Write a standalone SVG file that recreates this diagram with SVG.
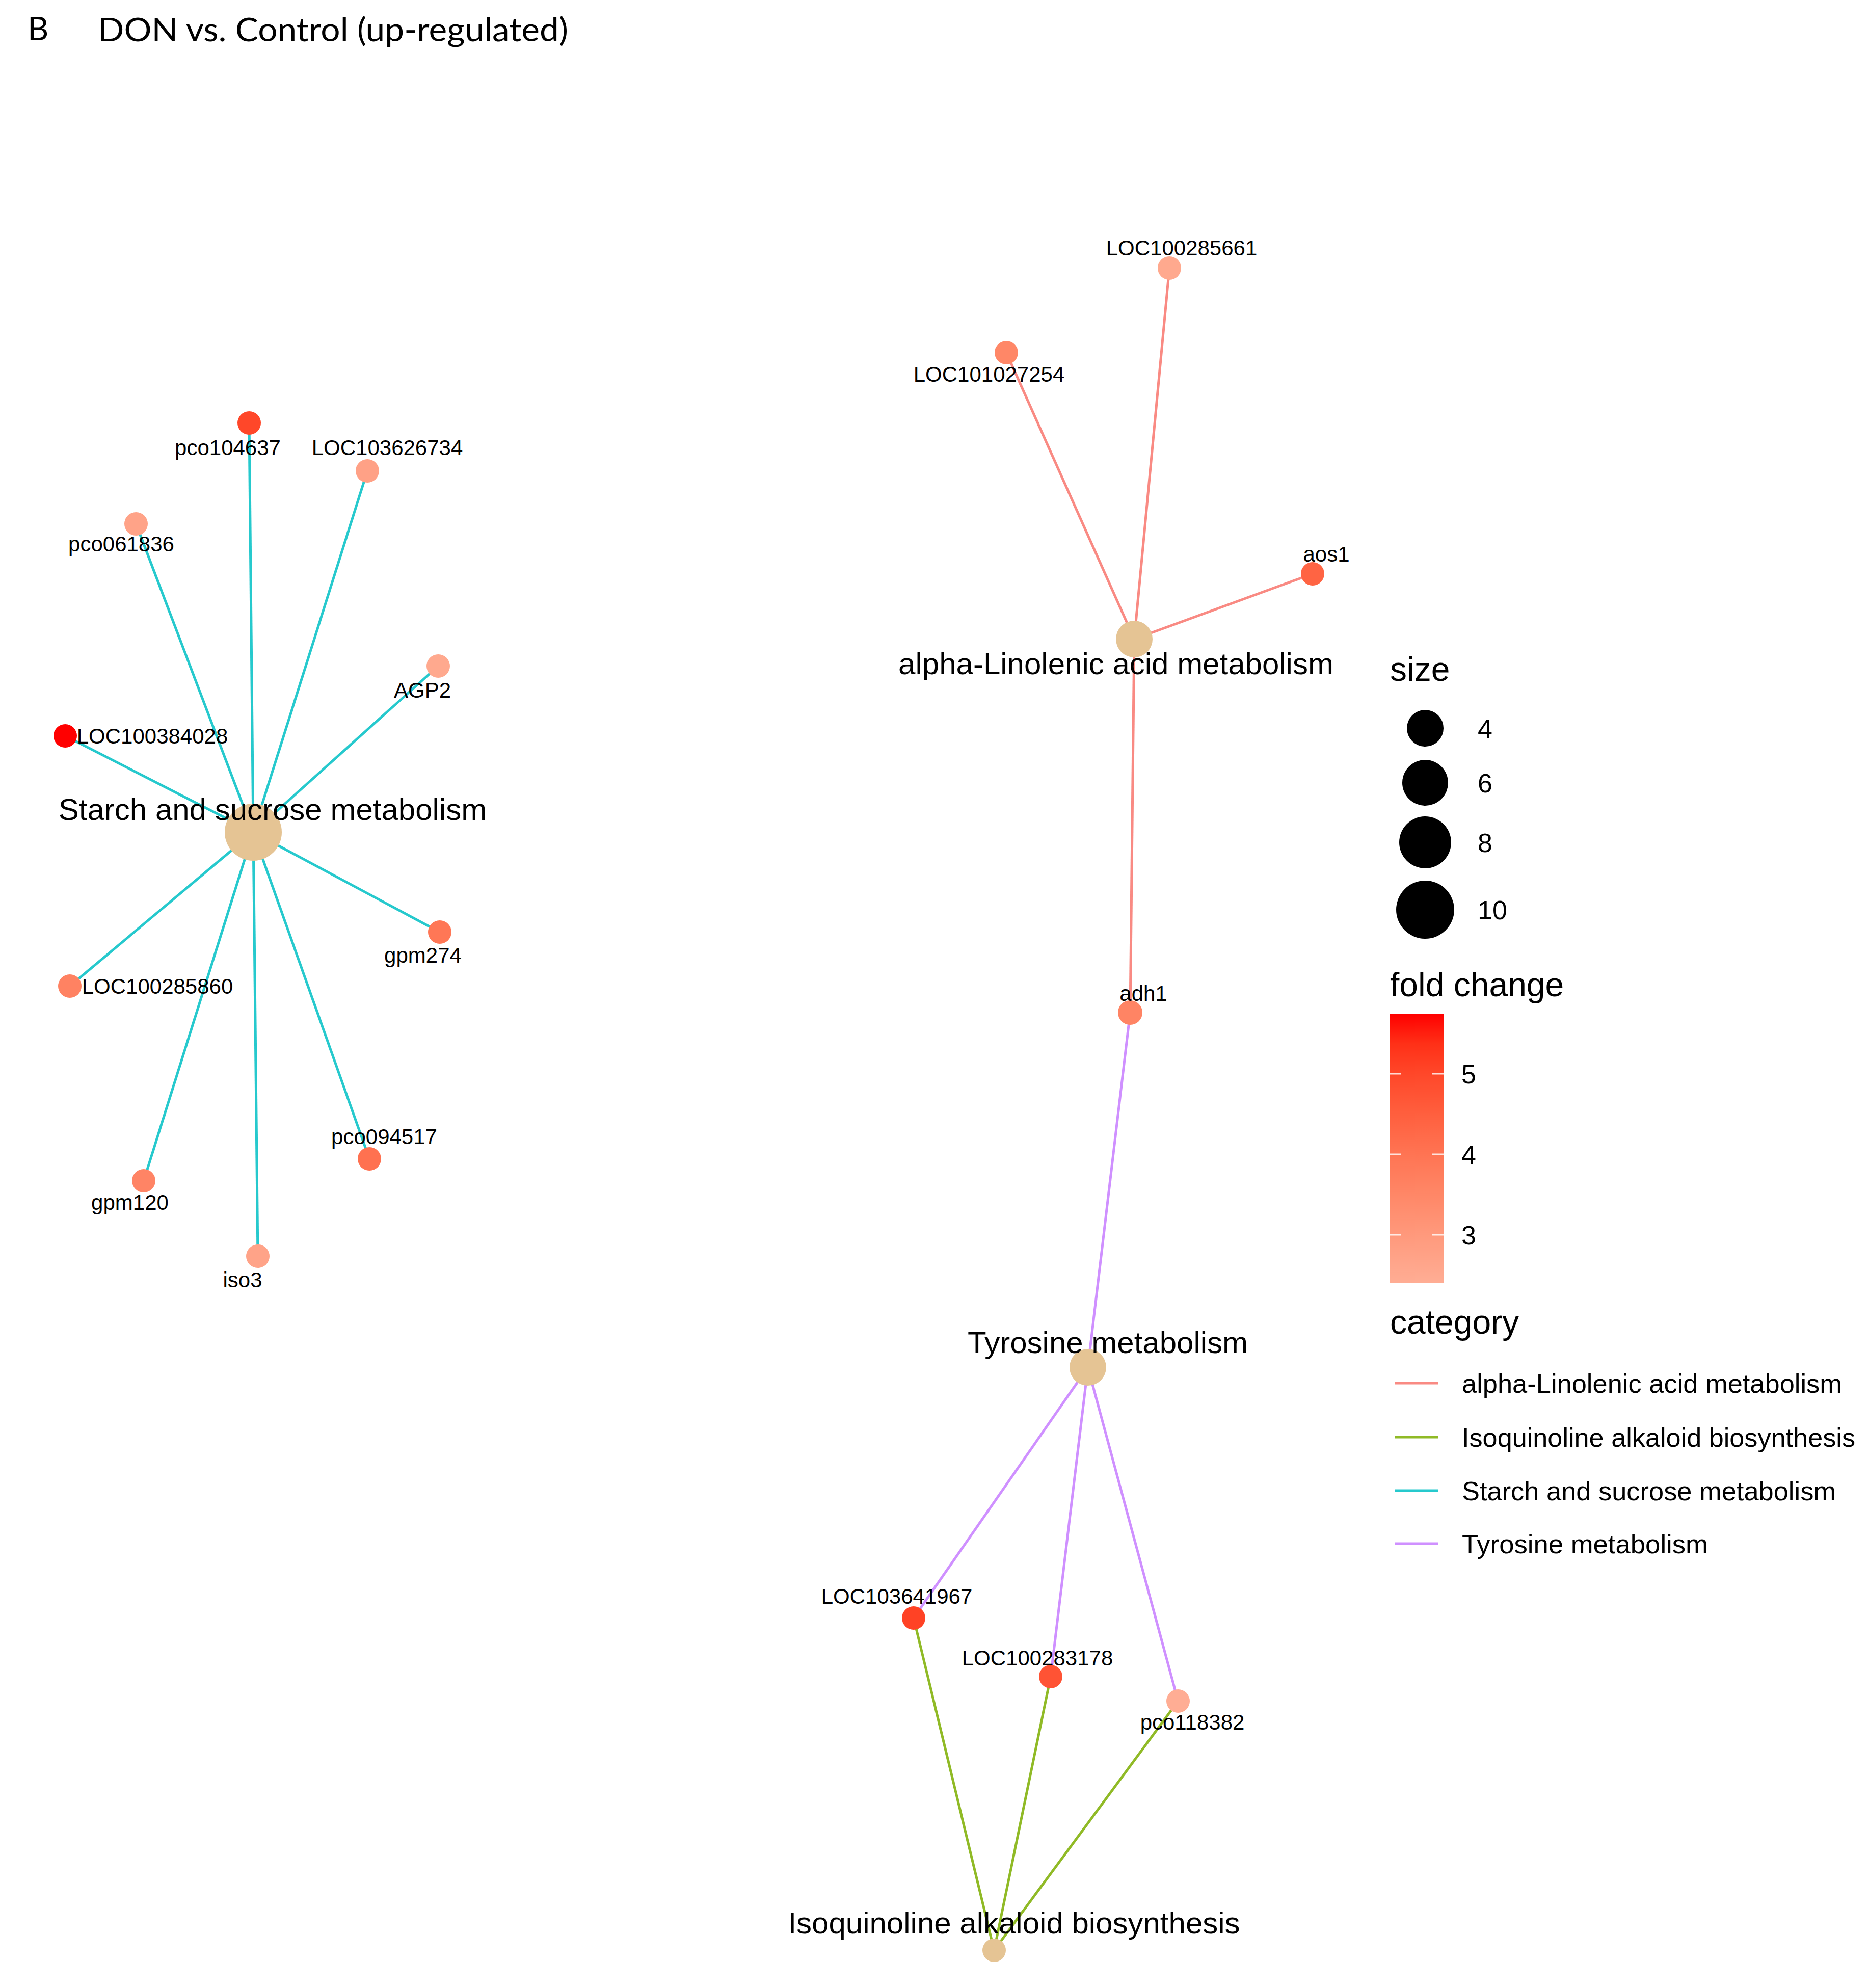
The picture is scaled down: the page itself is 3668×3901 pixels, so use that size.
<svg xmlns="http://www.w3.org/2000/svg" width="3668" height="3901" viewBox="0 0 3668 3901">
<style>
.title{font-family:Lato,"Open Sans","Liberation Sans",sans-serif;fill:#000}
.gl{font-family:"Liberation Sans",Arial,sans-serif;font-size:42px;fill:#000;text-anchor:middle}
.cl{font-family:"Liberation Sans",Arial,sans-serif;font-size:60px;fill:#000;text-anchor:middle}
.lt{font-family:"Liberation Sans",Arial,sans-serif;font-size:66px;fill:#000}
.lx{font-family:"Liberation Sans",Arial,sans-serif;font-size:52px;fill:#000}
.e{stroke-width:5;stroke-opacity:0.85;fill:none}
.ea{stroke:#F8766D}.ei{stroke:#7CAE00}.es{stroke:#00BFC4}.et{stroke:#C77CFF}
.cat{fill:#E5C494}
.tick{stroke:#ffffff;stroke-width:3;stroke-opacity:0.8}
</style>
<defs>
<linearGradient id="fc" x1="0" y1="0" x2="0" y2="1">
<stop offset="0" stop-color="#FF0000"/>
<stop offset="0.11" stop-color="#FF3017"/>
<stop offset="0.222" stop-color="#FF4729"/>
<stop offset="0.372" stop-color="#FF5F3E"/>
<stop offset="0.522" stop-color="#FF7453"/>
<stop offset="0.672" stop-color="#FF8767"/>
<stop offset="0.822" stop-color="#FF997C"/>
<stop offset="0.91" stop-color="#FFA388"/>
<stop offset="1" stop-color="#FFAD94"/>
</linearGradient>
</defs>
<rect width="3668" height="3901" fill="#ffffff"/>
<g id="title">
<text class="title" x="54" y="79" font-size="64">B</text>
<text class="title" x="192" y="81" font-size="64" textLength="923" lengthAdjust="spacingAndGlyphs">DON vs. Control (up-regulated)</text>
</g>
<g id="connectors">
<line class="e es" x1="497" y1="1633" x2="489" y2="830"/>
<line class="e es" x1="497" y1="1633" x2="721" y2="924"/>
<line class="e es" x1="497" y1="1633" x2="267" y2="1028"/>
<line class="e es" x1="497" y1="1633" x2="860" y2="1307"/>
<line class="e es" x1="497" y1="1633" x2="128" y2="1444"/>
<line class="e es" x1="497" y1="1633" x2="863" y2="1829"/>
<line class="e es" x1="497" y1="1633" x2="137" y2="1935"/>
<line class="e es" x1="497" y1="1633" x2="282" y2="2317"/>
<line class="e es" x1="497" y1="1633" x2="506" y2="2465"/>
<line class="e es" x1="497" y1="1633" x2="725" y2="2274"/>
<line class="e ea" x1="2226" y1="1254" x2="2295" y2="526"/>
<line class="e ea" x1="2226" y1="1254" x2="1975" y2="692"/>
<line class="e ea" x1="2226" y1="1254" x2="2576" y2="1126"/>
<line class="e ea" x1="2226" y1="1254" x2="2218" y2="1987"/>
<line class="e et" x1="2135" y1="2683" x2="2218" y2="1987"/>
<line class="e et" x1="2135" y1="2683" x2="1793" y2="3175"/>
<line class="e et" x1="2135" y1="2683" x2="2062" y2="3290"/>
<line class="e et" x1="2135" y1="2683" x2="2312" y2="3338"/>
<line class="e ei" x1="1951" y1="3827" x2="1793" y2="3175"/>
<line class="e ei" x1="1951" y1="3827" x2="2062" y2="3290"/>
<line class="e ei" x1="1951" y1="3827" x2="2312" y2="3338"/>
</g>
<g id="node-starch"><circle class="cat" cx="497" cy="1633" r="56"/><text class="cl" x="535" y="1609">Starch and sucrose metabolism</text></g>
<g id="node-alpha"><circle class="cat" cx="2226" cy="1254" r="36"/><text class="cl" x="2190" y="1323">alpha-Linolenic acid metabolism</text></g>
<g id="node-tyrosine"><circle class="cat" cx="2135" cy="2683" r="36"/><text class="cl" x="2174" y="2655">Tyrosine metabolism</text></g>
<g id="node-isoquinoline"><circle class="cat" cx="1951" cy="3827" r="23"/><text class="cl" x="1990" y="3794">Isoquinoline alkaloid biosynthesis</text></g>
<g id="node-pco104637"><circle cx="489" cy="830" r="23" fill="#FF4729"/><text class="gl" x="447" y="893">pco104637</text></g>
<g id="node-LOC103626734"><circle cx="721" cy="924" r="23" fill="#FFA186"/><text class="gl" x="760" y="893">LOC103626734</text></g>
<g id="node-pco061836"><circle cx="267" cy="1028" r="23" fill="#FFA388"/><text class="gl" x="238" y="1082">pco061836</text></g>
<g id="node-AGP2"><circle cx="860" cy="1307" r="23" fill="#FFA98E"/><text class="gl" x="829" y="1369">AGP2</text></g>
<g id="node-LOC100384028"><circle cx="128" cy="1444" r="23" fill="#FF0000"/><text class="gl" x="299" y="1459">LOC100384028</text></g>
<g id="node-gpm274"><circle cx="863" cy="1829" r="23" fill="#FF7756"/><text class="gl" x="830" y="1889">gpm274</text></g>
<g id="node-LOC100285860"><circle cx="137" cy="1935" r="23" fill="#FF8262"/><text class="gl" x="309" y="1950">LOC100285860</text></g>
<g id="node-gpm120"><circle cx="282" cy="2317" r="23" fill="#FF8465"/><text class="gl" x="255" y="2374">gpm120</text></g>
<g id="node-iso3"><circle cx="506" cy="2465" r="23" fill="#FFA388"/><text class="gl" x="476" y="2526">iso3</text></g>
<g id="node-pco094517"><circle cx="725" cy="2274" r="23" fill="#FF7150"/><text class="gl" x="754" y="2245">pco094517</text></g>
<g id="node-LOC100285661"><circle cx="2295" cy="526" r="23" fill="#FFA98E"/><text class="gl" x="2319" y="501">LOC100285661</text></g>
<g id="node-LOC101027254"><circle cx="1975" cy="692" r="23" fill="#FF8767"/><text class="gl" x="1941" y="749">LOC101027254</text></g>
<g id="node-aos1"><circle cx="2576" cy="1126" r="23" fill="#FF6443"/><text class="gl" x="2603" y="1102">aos1</text></g>
<g id="node-adh1"><circle cx="2218" cy="1987" r="24" fill="#FF8464"/><text class="gl" x="2244" y="1964">adh1</text></g>
<g id="node-LOC103641967"><circle cx="1793" cy="3175" r="23" fill="#FF4225"/><text class="gl" x="1760" y="3147">LOC103641967</text></g>
<g id="node-LOC100283178"><circle cx="2062" cy="3290" r="23" fill="#FF5334"/><text class="gl" x="2036" y="3268">LOC100283178</text></g>
<g id="node-pco118382"><circle cx="2312" cy="3338" r="23" fill="#FFAD94"/><text class="gl" x="2340" y="3394">pco118382</text></g>
<g id="legend-size">
<text class="lt" x="2728" y="1336">size</text>
<circle cx="2797" cy="1429" r="36" fill="#000"/>
<circle cx="2797" cy="1536" r="45" fill="#000"/>
<circle cx="2797" cy="1653" r="51" fill="#000"/>
<circle cx="2797" cy="1785" r="57" fill="#000"/>
<text class="lx" x="2900" y="1448">4</text>
<text class="lx" x="2900" y="1555">6</text>
<text class="lx" x="2900" y="1672">8</text>
<text class="lx" x="2900" y="1804">10</text>
</g>
<g id="legend-fold">
<text class="lt" x="2728" y="1955">fold change</text>
<rect x="2728" y="1990" width="105" height="527" fill="url(#fc)"/>
<line class="tick" x1="2728" y1="2107" x2="2750" y2="2107"/><line class="tick" x1="2811" y1="2107" x2="2833" y2="2107"/>
<line class="tick" x1="2728" y1="2265" x2="2750" y2="2265"/><line class="tick" x1="2811" y1="2265" x2="2833" y2="2265"/>
<line class="tick" x1="2728" y1="2423" x2="2750" y2="2423"/><line class="tick" x1="2811" y1="2423" x2="2833" y2="2423"/>
<text class="lx" x="2868" y="2126">5</text>
<text class="lx" x="2868" y="2284">4</text>
<text class="lx" x="2868" y="2442">3</text>
</g>
<g id="legend-category">
<text class="lt" x="2728" y="2617">category</text>
<line class="e ea" x1="2738" y1="2714" x2="2823" y2="2714"/>
<line class="e ei" x1="2738" y1="2820" x2="2823" y2="2820"/>
<line class="e es" x1="2738" y1="2925" x2="2823" y2="2925"/>
<line class="e et" x1="2738" y1="3029" x2="2823" y2="3029"/>
<text class="lx" x="2869" y="2733" textLength="746" lengthAdjust="spacingAndGlyphs">alpha-Linolenic acid metabolism</text>
<text class="lx" x="2869" y="2839" textLength="772" lengthAdjust="spacingAndGlyphs">Isoquinoline alkaloid biosynthesis</text>
<text class="lx" x="2869" y="2944" textLength="734" lengthAdjust="spacingAndGlyphs">Starch and sucrose metabolism</text>
<text class="lx" x="2869" y="3048" textLength="483" lengthAdjust="spacingAndGlyphs">Tyrosine metabolism</text>
</g>
</svg>
